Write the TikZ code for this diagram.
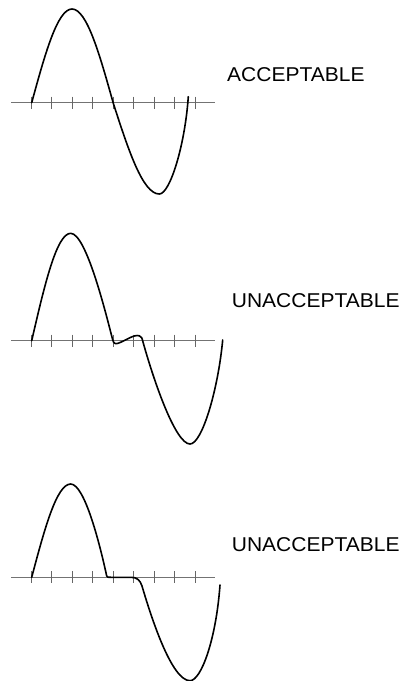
\documentclass[tikz,border=0pt]{standalone}
\usepackage{fontspec}
\setmainfont{Liberation Sans}
\usepackage{graphicx}

\begin{document}
\begin{tikzpicture}[
  x=1pt, y=-1pt,
  wave/.style={line width=1.6pt, line join=round, line cap=round},
  axisline/.style={draw=black!55, line width=0.9pt},
  ticmark/.style={draw=black!60, line width=0.8pt},
  lbl/.style={anchor=base west, inner sep=0pt, font=\fontsize{20}{24}\selectfont},
]
\useasboundingbox (0,0) rectangle (401,681);

% ------------------------------------------------------------- axes and ticks
\foreach \ay in {102.7, 340.7, 577.3} {
  \draw[axisline] (11,\ay) -- (215,\ay);
  \foreach \k in {0,...,8}
    \draw[ticmark] (31.3+20.5*\k,\ay-6) -- ++(0,12);
}

% ---------------------------------------------------------------- acceptable
\draw[wave] (31.7,102.7) .. controls (44.8,54.7) and (57.4,9) .. (72,9)
  .. controls (86.9,9) and (99.8,55) .. (113.3,103.3)
  .. controls (128.3,149.6) and (142.7,194) .. (159.3,194)
  .. controls (170,194) and (185,145) .. (188.3,96.7);
\node[lbl] (acc) at (227,81.7) {\scalebox{1.05}[1]{ACCEPTABLE}};

% ------------------------------------------------------- unacceptable (bump)
\draw[wave] (31.7,340.7) .. controls (44.4,285.7) and (56.6,233.3) .. (70.7,233.3)
  .. controls (86.2,233.3) and (106,314) .. (112.6,339.5)
  .. controls (113.6,343.5) and (115,344.2) .. (118,343.3)
  .. controls (125,341) and (134,334) .. (139.3,335.8)
  .. controls (141.5,336.3) and (142,338) .. (143,342)
  .. controls (155,385) and (176,444) .. (190,444)
  .. controls (202,444) and (218,390) .. (222.7,340);
\node[lbl] (unaccbump) at (231.7,307.3) {\scalebox{1.05}[1]{UNACCEPTABLE}};

% ------------------------------------------------------- unacceptable (flat)
\draw[wave] (31.7,577.3) .. controls (44.4,529.5) and (56.6,484) .. (70.7,484)
  .. controls (84.7,484) and (100,545) .. (106.7,576)
  .. controls (107.5,577.3) .. (112,577.3) -- (131,577.3)
  .. controls (137,577.3) and (140,580) .. (142,586)
  .. controls (152,620) and (172,680.7) .. (190,680.7)
  .. controls (201,680.7) and (216,640) .. (220,585);
\node[lbl] (unaccflat) at (231.7,551.7) {\scalebox{1.05}[1]{UNACCEPTABLE}};
\end{tikzpicture}
\end{document}
